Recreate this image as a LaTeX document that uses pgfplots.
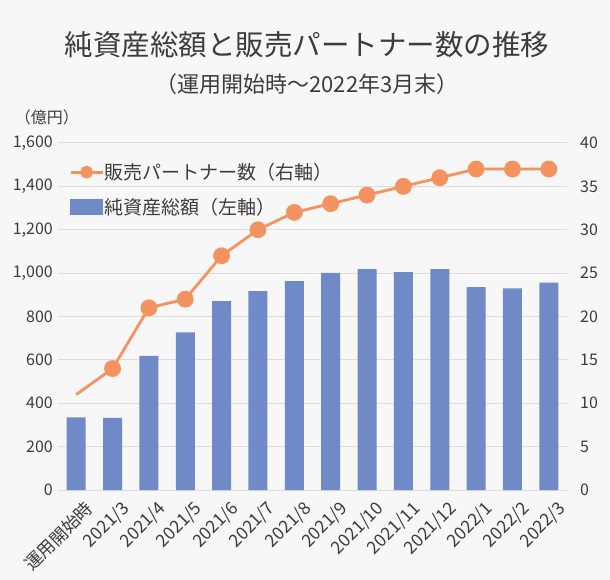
\documentclass[border=0pt]{standalone}
\usepackage{pgfplots}
\usepackage{pgfplotstable}
\pgfplotsset{compat=1.18}
\usepackage{fontspec}
\setmainfont{Noto Sans CJK JP}
\definecolor{bgc}{HTML}{F7F7F7}
\definecolor{barc}{HTML}{6F8AC7}
\definecolor{linec}{HTML}{F4935F}
\definecolor{txt}{HTML}{3C3C3C}
\definecolor{gridc}{HTML}{DCDCDC}

\pgfplotstableread{
x nav partners
0 335 11
1 333 14
2 618 21
3 727 22
4 871 27
5 917 30
6 963 32
7 1001 33
8 1019 34
9 1005 35
10 1019 36
11 936 37
12 930 37
13 956 37
}\data

\begin{document}
\begin{tikzpicture}
\fill[bgc] (-58bp,-90bp) rectangle (552bp,490bp);
\begin{axis}[
  scale only axis, width=509bp, height=347bp,
  xmin=-0.5, xmax=13.5, ymin=0, ymax=1600,
  ytick={0,200,...,1600},
  xtick={0,...,13},
  xticklabels={運用開始時,2021/3,2021/4,2021/5,2021/6,2021/7,2021/8,2021/9,2021/10,2021/11,2021/12,2022/1,2022/2,2022/3},
  axis line style={draw=none}, major tick length=0pt,
  ymajorgrids, grid style={gridc, line width=1bp},
  yticklabel style={font=\fontsize{16bp}{19bp}\selectfont, text=txt, inner sep=0pt, xshift=-5bp},
  xticklabel style={font=\fontsize{17.5bp}{20bp}\selectfont, text=txt, rotate=45, anchor=north east, inner sep=0pt, xshift=-1bp, yshift=-12bp},
  /pgf/number format/assume math mode=true,
  /pgf/number format/1000 sep={,},
  scaled y ticks=false,
]
\addplot[ybar, bar width=19bp, fill=barc, draw=none] table[x=x,y=nav]{\data};
\end{axis}
\begin{axis}[
  scale only axis, width=509bp, height=347bp,
  xmin=-0.5, xmax=13.5, ymin=0, ymax=40,
  axis y line*=right, hide x axis,
  ytick={0,5,...,40},
  axis line style={draw=none}, major tick length=0pt,
  yticklabel style={font=\fontsize{16bp}{19bp}\selectfont, text=txt, inner sep=0pt, xshift=13bp, anchor=west},
  /pgf/number format/assume math mode=true,
  legend style={at={(rel axis cs:0.0216,0.967)}, anchor=north west, draw=none, fill=none, inner sep=0pt,
    font=\fontsize{19bp}{23bp}\selectfont, text=txt,
    nodes={inner sep=1bp, minimum height=35bp}},
  legend cell align=left,
  legend image code/.code={
    \draw[#1,mark=none] (0bp,0bp) -- (32bp,0bp);
    \path[#1,draw=none,mark size=5bp,mark indices={1}] plot coordinates {(16bp,0bp)};},
]
\addplot[linec, line width=2.8bp, mark=*, mark size=7bp, mark options={fill=linec, draw=none},
  mark indices={2,3,4,5,6,7,8,9,10,11,12,13,14}] table[x=x,y=partners]{\data};
\addlegendentry{販売パートナー数（右軸）}
\addlegendimage{legend image code/.code={\fill[barc] (0bp,-7.5bp) rectangle (32bp,7.5bp);}}
\addlegendentry{純資産総額（左軸）}
\end{axis}
\node[font=\fontsize{28.5bp}{33bp}\selectfont, text=txt] at (249bp,445bp) {純資産総額と販売パートナー数の推移};
\node[font=\fontsize{22bp}{26bp}\selectfont, text=txt] at (249bp,406bp) {（運用開始時〜2022年3月末）};
\node[font=\fontsize{16bp}{19bp}\selectfont, text=txt] at (-11bp,373bp) {（億円）};
\pgfresetboundingbox
\path (-58bp,-90bp) rectangle (552bp,490bp);
\end{tikzpicture}
\end{document}
